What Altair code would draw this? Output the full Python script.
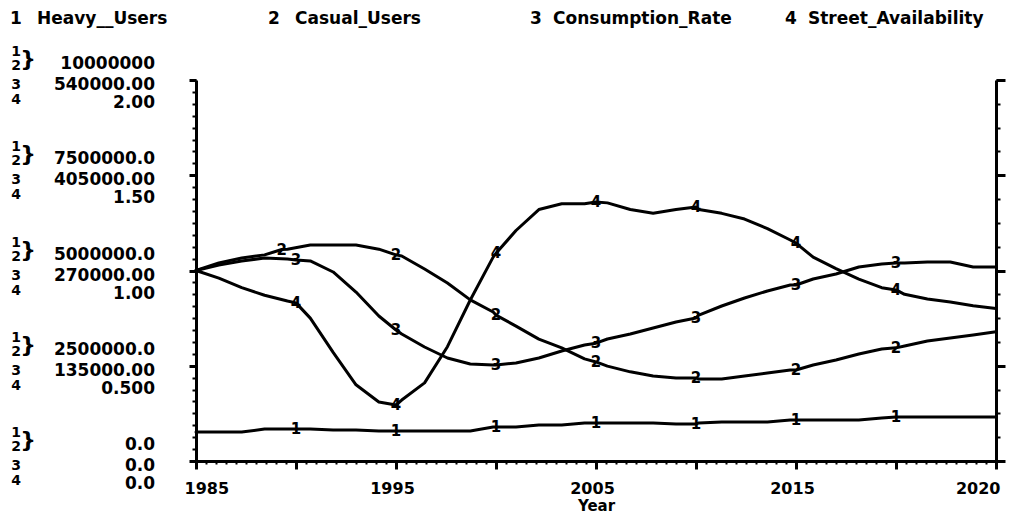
import altair as alt
import pandas as pd

FONT = "DejaVu Sans"

# ---------------- data ----------------
years = list(range(1985, 2021))

heavy_users = [760000, 760000, 760000, 840000, 840000, 840000, 815000, 815000, 790000, 790000,
               790000, 790000, 790000, 890000, 890000, 945000, 945000, 1000000, 1000000, 1000000,
               1000000, 970000, 1000000, 1025000, 1025000, 1025000, 1075000, 1075000, 1075000, 1075000,
               1130000, 1155000, 1155000, 1155000, 1155000, 1155000]

casual_users = [5000000, 5200000, 5330000, 5410000, 5560000, 5670000, 5670000, 5670000, 5560000, 5380000,
                5040000, 4670000, 4230000, 3910000, 3540000, 3200000, 2970000, 2680000, 2490000, 2340000,
                2230000, 2180000, 2150000, 2150000, 2230000, 2310000, 2390000, 2520000, 2650000, 2810000,
                2940000, 3020000, 3150000, 3230000, 3310000, 3390000]

consumption_rate = [270000, 277800, 283500, 287700, 286300, 283500, 267900, 239500, 205500, 180000,
                    161600, 146000, 137500, 136100, 138900, 146000, 155900, 164400, 172900, 180000,
                    188500, 197000, 206900, 219700, 231000, 241000, 249400, 257900, 265000, 275000,
                    279200, 280600, 282000, 282000, 275000, 275000]

street_availability = [1.00, 0.96, 0.91, 0.87, 0.84, 0.75, 0.57, 0.40, 0.31, 0.32,
                       0.41, 0.60, 0.845, 1.07, 1.21, 1.32, 1.35, 1.35, 1.355, 1.32,
                       1.30, 1.32, 1.32, 1.30, 1.27, 1.22, 1.16, 1.07, 1.01, 0.955,
                       0.91, 0.875, 0.85, 0.835, 0.815, 0.80]

# series number labels drawn on the curves
marker_years = [1989.375, 1993.75, 1998.125, 2002.5, 2006.875, 2011.25, 2015.625]
casual_marker_years = [1988.75, 1993.75, 1998.125, 2002.5, 2006.875, 2011.25, 2015.625]
heavy_marks = [840000, 790000, 890000, 1000000, 970000, 1075000, 1155000]
casual_marks = [5550000, 5410000, 3830000, 2600000, 2180000, 2390000, 2970000]
consumption_marks = [285000, 185700, 136000, 167000, 202700, 249400, 280600]
street_marks = [0.83, 0.294, 1.09, 1.36, 1.333, 1.144, 0.898]

series_ids = ["1", "2", "3", "4"]
series_names = ["Heavy__Users", "Casual_Users", "Consumption_Rate", "Street_Availability"]
scale_max = [10000000, 10000000, 540000, 2.0]

tick_fracs = [0, 0.25, 0.5, 0.75, 1.0]
labels_12 = ["0.0", "2500000.0", "5000000.0", "7500000.0", "10000000"]
labels_3 = ["0.0", "135000.00", "270000.00", "405000.00", "540000.00"]
labels_4 = ["0.0", "0.500", "1.00", "1.50", "2.00"]

x_tick_labels = ["1985", "", "1995", "", "2005", "", "2015", "", "2020"]

# ---------------- tables ----------------
rows, mrows = [], []
for sid, vals, myrs, mvals, mx in zip(
        series_ids,
        [heavy_users, casual_users, consumption_rate, street_availability],
        [marker_years, casual_marker_years, marker_years, marker_years],
        [heavy_marks, casual_marks, consumption_marks, street_marks],
        scale_max):
    for yr, v in zip(years, vals):
        rows.append({"series": sid, "year": yr, "value": v, "norm": v / mx})
    for yr, v in zip(myrs, mvals):
        rows.append({"series": sid, "year": yr, "value": v, "norm": v / mx})
        mrows.append({"series": sid, "year": yr, "value": v, "norm": v / mx})
line_df = pd.DataFrame(rows).sort_values(["series", "year"]).reset_index(drop=True)
mark_df = pd.DataFrame(mrows)
lab_df = pd.DataFrame({"frac": tick_fracs, "l12": labels_12, "l3": labels_3, "l4": labels_4})

x_major = [1985 + 4.375 * k for k in range(9)]
x_minor = [1985 + 0.4375 * k for k in range(81)]
y_minor_left = [k / 32 for k in range(33)]
y_minor_right = [k / 16 for k in range(17)]
label_expr = "[" + ",".join("'%s'" % t for t in x_tick_labels) + "][round((datum.value - 1985) / 4.375)]"

xs = alt.Scale(domain=[1985, 2020], nice=False, zero=False)
ys = alt.Scale(domain=[0, 1], nice=False, zero=False)

# ---------------- layers ----------------
lines = alt.Chart(line_df).mark_line(color="black", strokeWidth=3, strokeJoin="round", strokeCap="round").encode(
    x=alt.X("year:Q", scale=xs, axis=alt.Axis(
        values=x_major, labelExpr=label_expr, tickSize=8, tickWidth=3, tickColor="black",
        domainColor="black", domainWidth=3, labelFont=FONT, labelFontSize=16, labelFontWeight="bold",
        labelColor="black", labelPadding=11, labelFlush=True, labelFlushOffset=8, labelOffset=-4,
        title="Year", titleFont=FONT, titleFontSize=15, titleFontWeight="bold", titleColor="black",
        titleY=37, titleBaseline="top", grid=False, orient="bottom")),
    y=alt.Y("norm:Q", scale=ys, axis=alt.Axis(
        values=tick_fracs, labels=False, tickSize=7, tickWidth=3, tickColor="black",
        domainColor="black", domainWidth=3, title=None, grid=False, orient="left")),
    detail="series:N",
)

minor_left = alt.Chart(line_df).mark_point(opacity=0).encode(
    x=alt.X("year:Q", scale=xs, axis=alt.Axis(
        values=x_minor, labels=False, tickSize=3, tickWidth=2, tickColor="black",
        domain=False, title=None, grid=False, orient="bottom")),
    y=alt.Y("norm:Q", scale=ys, axis=alt.Axis(
        values=y_minor_left, labels=False, tickSize=4, tickWidth=2, tickColor="black",
        domain=False, title=None, grid=False, orient="left")),
)

right_major = alt.Chart(line_df).mark_point(opacity=0).encode(
    x=alt.X("year:Q", scale=xs, axis=None),
    y=alt.Y("norm:Q", scale=ys, axis=alt.Axis(
        values=tick_fracs, labels=False, tickSize=9, tickWidth=3, tickColor="black",
        domainColor="black", domainWidth=3, title=None, grid=False, orient="right")),
)

right_minor = alt.Chart(line_df).mark_point(opacity=0).encode(
    x=alt.X("year:Q", scale=xs, axis=None),
    y=alt.Y("norm:Q", scale=ys, axis=alt.Axis(
        values=y_minor_right, labels=False, tickSize=4, tickWidth=2, tickColor="black",
        domain=False, title=None, grid=False, orient="right")),
)

markers = alt.Chart(mark_df).mark_text(
    font=FONT, fontSize=15, fontWeight="bold", color="black", align="center", baseline="middle"
).encode(
    x=alt.X("year:Q", scale=xs, axis=None),
    y=alt.Y("norm:Q", scale=ys, axis=None),
    text="series:N",
)


def left_text(text, x, dy, align="center", size=17):
    return alt.Chart(lab_df).mark_text(
        font=FONT, fontSize=size, fontWeight="bold", color="black", align=align, baseline="middle", dy=dy
    ).encode(x=alt.value(x), y=alt.Y("frac:Q", scale=ys, axis=None), text=text)


left_labels = [
    left_text(alt.value(series_ids[0]), -180, -28, size=14),
    left_text(alt.value(series_ids[1]), -180, -14, size=14),
    left_text(alt.value(series_ids[2]), -180, 5, size=14),
    left_text(alt.value(series_ids[3]), -180, 20, size=14),
    left_text(alt.value("}"), -168, -21, size=22),
    left_text("l12:N", -41, -16, align="right"),
    left_text("l3:N", -41, 5, align="right"),
    left_text("l4:N", -41, 23, align="right"),
]

legend_digit_x = [-180, 78, 340, 595]
legend_name_x = [-159, 99, 357, 612]
legend_layers = []
for sid, name, dx, nx in zip(series_ids, series_names, legend_digit_x, legend_name_x):
    ldf = pd.DataFrame({"id": [sid], "name": [name]})
    legend_layers.append(alt.Chart(ldf).mark_text(
        font=FONT, fontSize=17, fontWeight="bold", color="black", align="center", baseline="middle"
    ).encode(x=alt.value(dx), y=alt.value(-61), text="id:N"))
    legend_layers.append(alt.Chart(ldf).mark_text(
        font=FONT, fontSize=17, fontWeight="bold", color="black", align="left", baseline="middle"
    ).encode(x=alt.value(nx), y=alt.value(-61), text="name:N"))

chart = alt.layer(
    lines, minor_left, right_major, right_minor, markers, *left_labels, *legend_layers
).resolve_scale(x="independent", y="independent").properties(
    width=800, height=381,
    autosize=alt.AutoSizeParams(type="none"),
    padding={"left": 188, "top": 72, "right": 10, "bottom": 55},
    background="white",
).configure_view(stroke=None)

chart.save("out.html", embed_options={"renderer": "svg", "actions": False})
